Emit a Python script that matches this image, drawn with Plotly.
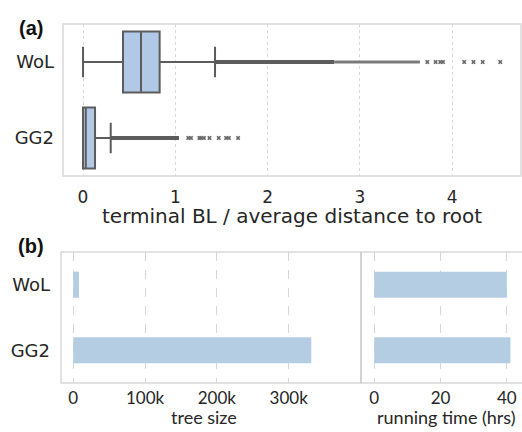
import plotly.graph_objects as go

# ---------------- data ----------------
datasets = ["WoL", "GG2"]
cat_order = ["GG2", "WoL"]  # bottom to top

# panel (a): box statistics of terminal BL / average distance to root
box_q1 = [0.433, 0.0]
box_median = [0.628, 0.03]
box_q3 = [0.83, 0.13]
box_low = [0.0, 0.0]
box_high = [1.43, 0.30]

# dense outlier bands (too many points to distinguish)
wol_dense_band = [1.43, 2.72]
wol_semi_band = [2.72, 3.65]
gg2_dense_band = [0.30, 1.04]
# individually visible outliers
wol_outliers = [3.73, 3.82, 3.87, 3.90, 4.13, 4.23, 4.33, 4.52]
gg2_outliers = [1.14, 1.17, 1.26, 1.28, 1.31, 1.37, 1.47, 1.55, 1.58, 1.68]

top_ticks = [0, 1, 2, 3, 4]

# panel (b)
tree_size = [8000, 331500]
run_time = [40.0, 41.1]
size_ticks = [0, 100000, 200000, 300000]
size_ticklabels = ["0", "100k", "200k", "300k"]
time_ticks = [0, 20, 40]

# ---------------- style ----------------
W, H = 522, 432
box_fill = "#b1c9e7"
box_line = "#5c5c5c"
bar_color = "#b4cde3"
frame_col = "#d9d9d9"
grid_col = "#d6d6d6"
txt_col = "#262626"
dejavu = "DejaVu Sans"
cal = "Lato"

def px_x(p):
    return p / W

def px_y(p):
    return 1 - p / H

fig = go.Figure()

# ---- panel (a) boxes ----
for i, name in enumerate(datasets):
    fig.add_trace(go.Box(
        y=[name], q1=[box_q1[i]], median=[box_median[i]], q3=[box_q3[i]],
        lowerfence=[box_low[i]], upperfence=[box_high[i]],
        orientation="h", width=0.8, whiskerwidth=0.5, boxpoints=False,
        fillcolor=box_fill, line=dict(color=box_line, width=2),
        xaxis="x", yaxis="y", showlegend=False, hoverinfo="skip"))

for band, name, w, col in [(wol_dense_band, "WoL", 4, "#5c5c5c"),
                           (wol_semi_band, "WoL", 3, "#7a7a7a"),
                           (gg2_dense_band, "GG2", 4, "#5c5c5c")]:
    fig.add_trace(go.Scatter(x=band, y=[name, name], mode="lines",
                             line=dict(color=col, width=w),
                             xaxis="x", yaxis="y", showlegend=False, hoverinfo="skip"))

for vals, name in [(wol_outliers, "WoL"), (gg2_outliers, "GG2")]:
    fig.add_trace(go.Scatter(x=vals, y=[name] * len(vals), mode="markers",
                             marker=dict(symbol="x", size=4, color="#6a6a6a",
                                         line=dict(width=0)),
                             xaxis="x", yaxis="y", showlegend=False, hoverinfo="skip"))

# ---- panel (b) bars ----
fig.add_trace(go.Bar(y=datasets, x=tree_size, orientation="h", width=0.4,
                     marker=dict(color=bar_color, line=dict(width=0)),
                     xaxis="x2", yaxis="y2", showlegend=False, hoverinfo="skip"))
fig.add_trace(go.Bar(y=datasets, x=run_time, orientation="h", width=0.4,
                     marker=dict(color=bar_color, line=dict(width=0)),
                     xaxis="x3", yaxis="y3", showlegend=False, hoverinfo="skip"))

top_x = [px_x(63), px_x(521)]
top_y = [px_y(176), px_y(24)]
bl_x = [px_x(61), px_x(361)]
br_x = [px_x(361), 1.0]
b_y = [px_y(383), px_y(252)]

fig.update_layout(
    width=W, height=H, margin=dict(l=0, r=0, t=0, b=0),
    paper_bgcolor="white", plot_bgcolor="white",
    boxmode="overlay", barmode="overlay",
    xaxis=dict(domain=top_x, anchor="y", range=[-0.217, 4.745],
               tickvals=top_ticks, ticktext=[str(t) for t in top_ticks],
               showgrid=True, gridcolor=grid_col, griddash="dot", gridwidth=1,
               zeroline=False, showline=False, ticks="",
               tickfont=dict(family=dejavu, size=17, color=txt_col),
               ticklabelstandoff=9),
    yaxis=dict(domain=top_y, anchor="x", type="category", categoryorder="array",
               categoryarray=cat_order, range=[-0.5, 1.5], showgrid=False,
               zeroline=False, ticks="",
               tickfont=dict(family=dejavu, size=18, color=txt_col),
               ticklabelstandoff=8),
    xaxis2=dict(domain=bl_x, anchor="y2", range=[-17000, 400700],
                tickvals=size_ticks, ticktext=size_ticklabels,
                showgrid=True, gridcolor=grid_col, griddash="dash", gridwidth=1,
                zeroline=False, ticks="",
                tickfont=dict(family=cal, size=17, color=txt_col),
                ticklabelstandoff=3),
    yaxis2=dict(domain=b_y, anchor="x2", type="category", categoryorder="array",
                categoryarray=cat_order, range=[-0.5, 1.5], showgrid=False,
                zeroline=False, ticks="",
                tickfont=dict(family=dejavu, size=18, color=txt_col),
                ticklabelstandoff=10),
    xaxis3=dict(domain=br_x, anchor="y3", range=[-4.0, 44.6],
                tickvals=time_ticks, ticktext=[str(t) for t in time_ticks],
                showgrid=True, gridcolor=grid_col, griddash="dash", gridwidth=1,
                zeroline=False, ticks="",
                tickfont=dict(family=cal, size=17, color=txt_col),
                ticklabelstandoff=3),
    yaxis3=dict(domain=b_y, anchor="x3", type="category", categoryorder="array",
                categoryarray=cat_order, range=[-0.5, 1.5], showgrid=False,
                zeroline=False, showticklabels=False, ticks=""),
)

# frames
shapes = [
    dict(type="rect", xref="paper", yref="paper", x0=top_x[0], x1=top_x[1],
         y0=top_y[0], y1=top_y[1], line=dict(color=frame_col, width=1.5)),
    dict(type="rect", xref="paper", yref="paper", x0=bl_x[0], x1=1.01,
         y0=b_y[0], y1=b_y[1], line=dict(color=frame_col, width=1.5)),
    dict(type="line", xref="paper", yref="paper", x0=bl_x[1], x1=bl_x[1],
         y0=b_y[0], y1=b_y[1], line=dict(color="#c4c4c4", width=1.5)),
]
fig.update_layout(shapes=shapes)

annotations = [
    dict(text="terminal BL / average distance to root", x=px_x(292), y=px_y(216),
         xref="paper", yref="paper", showarrow=False, xanchor="center", yanchor="middle",
         font=dict(family=dejavu, size=20, color=txt_col)),
    dict(text="tree size", x=px_x(204), y=px_y(417), xref="paper", yref="paper",
         showarrow=False, xanchor="center", yanchor="middle",
         font=dict(family=cal, size=18, color=txt_col)),
    dict(text="running time (hrs)", x=px_x(446), y=px_y(417), xref="paper", yref="paper",
         showarrow=False, xanchor="center", yanchor="middle",
         font=dict(family=cal, size=18, color=txt_col)),
    dict(text="<b>(a)</b>", x=px_x(31), y=px_y(28), xref="paper", yref="paper",
         showarrow=False, xanchor="center", yanchor="middle",
         font=dict(family="Liberation Sans", size=20, color="#111111")),
    dict(text="<b>(b)</b>", x=px_x(31), y=px_y(246), xref="paper", yref="paper",
         showarrow=False, xanchor="center", yanchor="middle",
         font=dict(family="Liberation Sans", size=20, color="#111111")),
]
fig.update_layout(annotations=annotations)

fig.write_html("out.html", config={"displayModeBar": False},
               post_script="document.body.style.margin='0';document.body.style.padding='0';document.body.style.overflow='hidden';")
